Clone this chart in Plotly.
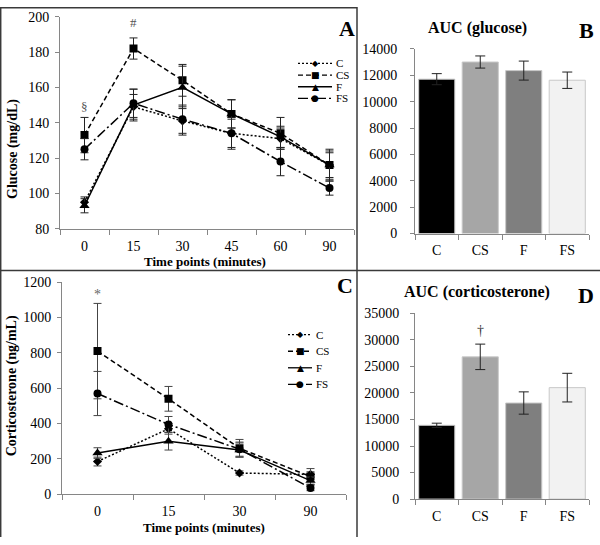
import plotly.graph_objects as go

# ---------------- data ----------------
series_names = ["C", "CS", "F", "FS"]

glu_times = ["0", "15", "30", "45", "60", "90"]
glu_C = [95, 149, 141, 134, 131, 116]
glu_C_err = [3, 7, 8, 8, 6, 8]
glu_CS = [133, 182, 164, 145, 134, 116]
glu_CS_err = [10, 6, 9, 8, 9, 9]
glu_F = [93, 150, 160, 145, 132, 116]
glu_F_err = [4, 9, 12, 8, 6, 7]
glu_FS = [125, 151, 142, 134, 118, 103]
glu_FS_err = [6, 8, 8, 9, 8, 4]

cort_times = ["0", "15", "30", "90"]
cort_C = [185, 370, 120, 112]
cort_C_err = [25, 30, 12, 15]
cort_CS = [810, 540, 260, 100]
cort_CS_err = [270, 70, 50, 45]
cort_F = [233, 300, 250, 77]
cort_F_err = [30, 50, 40, 20]
cort_FS = [570, 395, 255, 35]
cort_FS_err = [125, 45, 40, 15]

groups = ["C", "CS", "F", "FS"]
auc_glu = [11700, 13000, 12350, 11620]
auc_glu_err = [420, 460, 720, 620]
auc_cort = [13900, 26800, 18100, 21000]
auc_cort_err = [400, 2400, 2100, 2700]

# ---------------- styles ----------------
W, H = 600, 545
FONT = "Liberation Serif"
AX = "#868686"
bar_colors = ["#000000", "#a6a6a6", "#7f7f7f", "#f2f2f2"]
dashes = ["2px,2px", "5px,3px", "solid", "10px,3px,2px,3px"]
symbols = ["diamond", "square", "triangle-up", "circle"]
msizes = [7, 8, 9, 8]
glyphs = ["\u25c6", "\u25a0", "\u25b2", "\u25cf"]


def px(x):
    return x / W


def py(y):
    return 1 - y / H


fig = go.Figure()

glu_vals = [glu_C, glu_CS, glu_F, glu_FS]
glu_errs = [glu_C_err, glu_CS_err, glu_F_err, glu_FS_err]
cort_vals = [cort_C, cort_CS, cort_F, cort_FS]
cort_errs = [cort_C_err, cort_CS_err, cort_F_err, cort_FS_err]

for i, name in enumerate(series_names):
    fig.add_trace(go.Scatter(
        x=glu_times, y=glu_vals[i], name=name, mode="lines+markers",
        line=dict(color="black", width=1.5, dash=dashes[i]),
        marker=dict(symbol=symbols[i], size=msizes[i], color="black"),
        error_y=dict(type="data", array=glu_errs[i], color="#222", thickness=1, width=4),
        xaxis="x", yaxis="y", showlegend=False))

for i, name in enumerate(series_names):
    fig.add_trace(go.Scatter(
        x=cort_times, y=cort_vals[i], name=name, mode="lines+markers",
        line=dict(color="black", width=1.5, dash=dashes[i]),
        marker=dict(symbol=symbols[i], size=msizes[i], color="black"),
        error_y=dict(type="data", array=cort_errs[i], color="#444", thickness=1, width=4),
        xaxis="x3", yaxis="y3", showlegend=False))

fig.add_trace(go.Bar(
    x=groups, y=auc_glu, marker=dict(color=bar_colors, line=dict(color="#c8c8c8", width=1)),
    error_y=dict(type="data", array=auc_glu_err, color="#222", thickness=1, width=5),
    xaxis="x2", yaxis="y2", showlegend=False))
fig.add_trace(go.Bar(
    x=groups, y=auc_cort, marker=dict(color=bar_colors, line=dict(color="#c8c8c8", width=1)),
    error_y=dict(type="data", array=auc_cort_err, color="#222", thickness=1, width=5),
    xaxis="x4", yaxis="y4", showlegend=False))

tickfont = dict(family=FONT, size=14, color="black")


def xcat(domain, n):
    return dict(domain=domain, type="category", range=[-0.5, n - 0.5],
                showline=True, linecolor=AX, linewidth=1, ticks="outside",
                tickson="boundaries", ticklen=5, tickcolor=AX, showgrid=False,
                zeroline=False, tickfont=tickfont, ticklabelstandoff=4, fixedrange=True)


def ylin(domain, rng, dtick, anchor, standoff):
    return dict(domain=domain, range=rng, dtick=dtick, anchor=anchor, tickformat="d",
                showline=True, linecolor=AX, linewidth=1, ticks="outside",
                ticklen=4, tickcolor=AX, showgrid=False, zeroline=False,
                tickfont=tickfont, ticklabelstandoff=standoff, fixedrange=True)


layout = dict(
    width=W, height=H, margin=dict(l=0, r=0, t=0, b=0),
    paper_bgcolor="white", plot_bgcolor="white",
    font=dict(family=FONT, color="black"),
    bargap=0.17, showlegend=False,
)
xa = xcat([px(60), px(354)], len(glu_times)); xa["anchor"] = "y"
xb = xcat([px(415), px(589)], len(groups)); xb["anchor"] = "y2"
xc = xcat([px(62), px(346)], len(cort_times)); xc["anchor"] = "y3"
xd = xcat([px(415), px(589)], len(groups)); xd["anchor"] = "y4"
layout.update(
    xaxis=xa, xaxis2=xb, xaxis3=xc, xaxis4=xd,
    yaxis=ylin([py(228), py(10)], [80, 200], 20, "x", 3),
    yaxis2=ylin([py(233), py(43)], [0, 14000], 2000, "x2", 10),
    yaxis3=ylin([py(501), py(283)], [0, 1200], 200, "x3", 3),
    yaxis4=ylin([py(506), py(315)], [0, 35000], 5000, "x4", 8),
)
fig.update_layout(**layout)

ann = []


def text(x, y, s, size, bold=False, angle=0, xanchor="center", family=FONT):
    ann.append(dict(xref="paper", yref="paper", x=px(x), y=py(y), text=("<b>%s</b>" % s) if bold else s,
                    showarrow=False, xanchor=xanchor, yanchor="middle", textangle=angle,
                    font=dict(family=family, size=size, color="black")))


# axis titles
text(205, 262, "Time points (minutes)", 13, bold=True)
text(204, 535, "Time points (minutes)", 13, bold=True)
text(13, 146, "Glucose (mg/dL)", 14, bold=True, angle=-90)
text(12, 390, "Corticosterone (ng/mL)", 14, bold=True, angle=-90)
# bar titles
text(477, 22, "AUC (glucose)", 16, bold=True)
text(477, 293, "AUC (corticosterone)", 16, bold=True)
# panel letters
text(347, 22, "A", 22, bold=True)
text(586, 24, "B", 22, bold=True)
text(345, 286, "C", 22, bold=True)
text(586, 297, "D", 22, bold=True)

# significance marks (data coordinates)
ann.append(dict(xref="x", yref="y", x=0, y=149, text="\u00a7", showarrow=False,
                font=dict(family=FONT, size=13, color="#555")))
ann.append(dict(xref="x", yref="y", x=1, y=197, text="#", showarrow=False,
                font=dict(family=FONT, size=13, color="#555")))
ann.append(dict(xref="x3", yref="y3", x=0, y=1130, text="*", showarrow=False,
                font=dict(family=FONT, size=14, color="#666")))
ann.append(dict(xref="x4", yref="y4", x=1, y=31800, text="\u2020", showarrow=False,
                font=dict(family=FONT, size=14, color="#333")))

shapes = []
# manual legends
legA_rows = [58, 70, 82, 94]
legC_rows = [337, 354, 371, 388]
for rows, x0, x1, xm, xt in [(legA_rows, 298, 332, 315, 334), (legC_rows, 288, 312, 300, 314)]:
    for i, name in enumerate(series_names):
        d = dashes[i]
        shapes.append(dict(type="line", xref="paper", yref="paper", x0=px(x0), x1=px(x1),
                           y0=py(rows[i]), y1=py(rows[i]),
                           line=dict(color="black", width=1.3, dash=d)))
        ann.append(dict(xref="paper", yref="paper", x=px(xm), y=py(rows[i]), text=glyphs[i],
                        showarrow=False, xanchor="center", yanchor="middle",
                        font=dict(family="DejaVu Sans", size=9 if i else 8, color="black")))
        text(xt, rows[i], name, 11, xanchor="left")

# frame lines
LC = "#3a3a3a"
shapes += [
    dict(type="line", xref="paper", yref="paper", x0=0, x1=px(357), y0=py(0.7), y1=py(0.7), line=dict(color=LC, width=1.5)),
    dict(type="line", xref="paper", yref="paper", x0=px(0.7), x1=px(0.7), y0=0, y1=1, line=dict(color=LC, width=1.5)),
    dict(type="line", xref="paper", yref="paper", x0=0, x1=1, y0=py(271), y1=py(271), line=dict(color=LC, width=1.5)),
    dict(type="line", xref="paper", yref="paper", x0=px(357), x1=px(357), y0=0, y1=1, line=dict(color=LC, width=1.5)),
]

fig.update_layout(annotations=ann, shapes=shapes)
fig.write_html("out.html", config={"displayModeBar": False, "staticPlot": True},
               post_script="document.body.style.margin='0';document.body.style.overflow='hidden';")
